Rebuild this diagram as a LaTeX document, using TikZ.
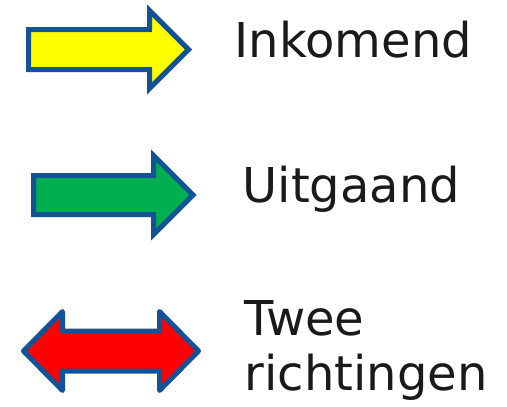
\documentclass[tikz,border=0pt]{standalone}
\usepackage{fontspec}
\setmainfont{DejaVu Sans}
\usetikzlibrary{positioning}
\definecolor{randblauw}{RGB}{18,82,150}
\definecolor{geel}{RGB}{255,255,0}
\definecolor{groen}{RGB}{0,176,80}
\definecolor{rood}{RGB}{255,0,0}
\definecolor{tekstkleur}{RGB}{26,26,26}

\begin{document}
\begin{tikzpicture}
   [x=1pt,y=-1pt,
    pijl/.style={draw=randblauw,line width=5pt,miter limit=10},
    label/.style={anchor=base west,inner sep=0pt,text=tekstkleur,
      font=\fontsize{48}{55}\selectfont,align=left}]

\useasboundingbox (0,0) rectangle (507,407);

% inkomend
\draw [pijl,fill=geel] (28.5,29.5) -- ++(121,0) -- ++(0,-19) -- ++(39,39)
   -- ++(-39,39) -- ++(0,-19) -- ++(-121,0) -- cycle;
\node [label] (inkomend) at (234.5,57) {Inkomend};

% uitgaand
\draw [pijl,fill=groen] (33.5,175.5) -- ++(120,0) -- ++(0,-20) -- ++(39.5,39.5)
   -- ++(-39.5,39.5) -- ++(0,-20) -- ++(-120,0) -- cycle;
\node [label] (uitgaand) at (242.5,202) {Uitgaand};

% twee richtingen (base = baseline of the last line)
\draw [pijl,fill=rood,line join=round] (23.5,351) -- ++(39,-39.5) -- ++(0,19.5)
   -- ++(97,0) -- ++(0,-19.5) -- ++(39,39.5) -- ++(-39,39.5) -- ++(0,-19.5)
   -- ++(-97,0) -- ++(0,19.5) -- cycle;
\node [label] (tweerichtingen) at (244.5,390) {Twee\\richtingen};
\end{tikzpicture}
\end{document}
